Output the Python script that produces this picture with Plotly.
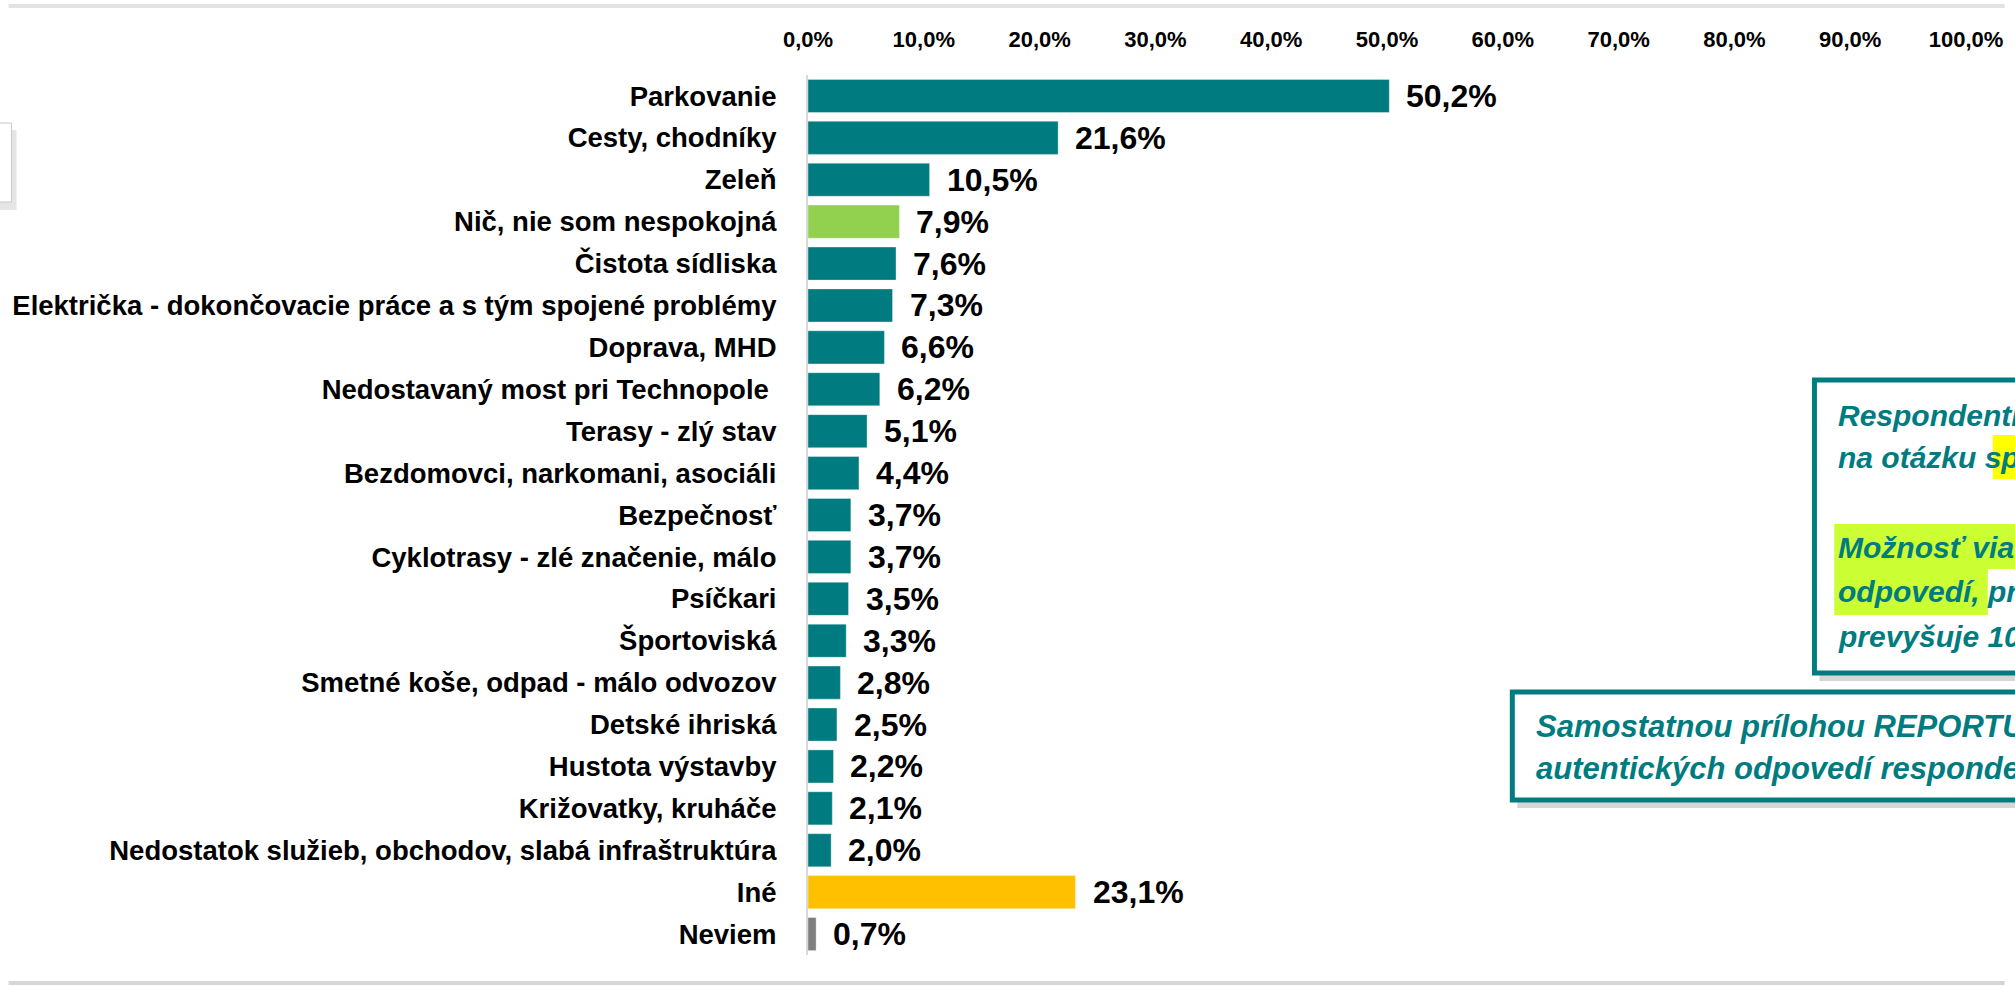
import plotly.graph_objects as go

categories = [
    "Parkovanie",
    "Cesty, chodníky",
    "Zeleň",
    "Nič, nie som nespokojná",
    "Čistota sídliska",
    "Električka - dokončovacie práce a s tým spojené problémy",
    "Doprava, MHD",
    "Nedostavaný most pri Technopole\u00a0",
    "Terasy - zlý stav",
    "Bezdomovci, narkomani, asociáli",
    "Bezpečnosť",
    "Cyklotrasy - zlé značenie, málo",
    "Psíčkari",
    "Športoviská",
    "Smetné koše, odpad - málo odvozov",
    "Detské ihriská",
    "Hustota výstavby",
    "Križovatky, kruháče",
    "Nedostatok služieb, obchodov, slabá infraštruktúra",
    "Iné",
    "Neviem",
]
values = [50.2, 21.6, 10.5, 7.9, 7.6, 7.3, 6.6, 6.2, 5.1, 4.4, 3.7, 3.7, 3.5, 3.3,
          2.8, 2.5, 2.2, 2.1, 2.0, 23.1, 0.7]
TEAL = "#007C80"
bar_colors = [TEAL, TEAL, TEAL, "#92D050"] + [TEAL] * 15 + ["#FFC000", "#7F7F7F"]
tick_vals = [0, 10, 20, 30, 40, 50, 60, 70, 80, 90, 100]
tick_text = [f"{t:.1f}".replace(".", ",") + "%" for t in tick_vals]

W, H = 2015, 986
L, R, T, B = 807, 1976, 75, 955
FONT = "Liberation Sans, Arial, sans-serif"


def px(x):
    return (x - L) / (R - L)


def py(y):
    return (B - y) / (B - T)


fig = go.Figure(go.Bar(
    x=values, y=categories, orientation="h",
    marker=dict(color=bar_colors, line=dict(color="rgba(255,255,255,0.35)", width=1)),
    width=0.79, hoverinfo="skip",
))

annotations = []
for c, v in zip(categories, values):
    annotations.append(dict(
        x=v, y=c, xref="x", yref="y", xanchor="left", yanchor="middle",
        xshift=15, showarrow=False,
        text="<b>" + f"{v:.1f}".replace(".", ",") + "%</b>",
        font=dict(family=FONT, size=32, color="#000000"),
    ))

shapes = []
# top / bottom frame lines
shapes.append(dict(type="line", xref="paper", yref="paper", x0=px(0), x1=px(W), y0=py(6), y1=py(6),
                   line=dict(color="#E2E2E2", width=4)))
shapes.append(dict(type="line", xref="paper", yref="paper", x0=px(0), x1=px(W), y0=py(983), y1=py(983),
                   line=dict(color="#D6D6D6", width=4)))
# left fragment box with shadow
shapes.append(dict(type="rect", xref="paper", yref="paper", x0=px(-60), x1=px(8), y0=py(130), y1=py(210),
                   fillcolor="rgba(0,0,0,0.10)", line=dict(width=0)))
shapes.append(dict(type="rect", xref="paper", yref="paper", x0=px(-60), x1=px(3), y0=py(123), y1=py(202),
                   fillcolor="white", line=dict(color="#C8C8C8", width=1)))

# box 1
b1 = dict(x0=1823, x1=2400, y0=380, y1=673)
shapes.append(dict(type="rect", xref="paper", yref="paper", x0=px(b1["x0"] + 5), x1=px(b1["x1"] + 5),
                   y0=py(b1["y0"] + 7), y1=py(b1["y1"] + 8),
                   fillcolor="rgba(0,0,0,0.16)", line=dict(width=0)))
shapes.append(dict(type="rect", xref="paper", yref="paper", x0=px(b1["x0"]), x1=px(b1["x1"]),
                   y0=py(b1["y0"]), y1=py(b1["y1"]),
                   fillcolor="white", line=dict(color=TEAL, width=5)))
# highlights inside box 1
shapes.append(dict(type="rect", xref="paper", yref="paper", x0=px(2003), x1=px(2200), y0=py(435), y1=py(479),
                   fillcolor="#FFFF00", line=dict(width=0)))
shapes.append(dict(type="rect", xref="paper", yref="paper", x0=px(1843), x1=px(2200), y0=py(524), y1=py(569),
                   fillcolor="#CCFF33", line=dict(width=0)))
shapes.append(dict(type="rect", xref="paper", yref="paper", x0=px(1843), x1=px(1998), y0=py(569), y1=py(615),
                   fillcolor="#CCFF33", line=dict(width=0)))

# box 2
b2 = dict(x0=1518, x1=2400, y0=692, y1=800)
shapes.append(dict(type="rect", xref="paper", yref="paper", x0=px(b2["x0"] + 5), x1=px(b2["x1"] + 5),
                   y0=py(b2["y0"] + 7), y1=py(b2["y1"] + 8),
                   fillcolor="rgba(0,0,0,0.16)", line=dict(width=0)))
shapes.append(dict(type="rect", xref="paper", yref="paper", x0=px(b2["x0"]), x1=px(b2["x1"]),
                   y0=py(b2["y0"]), y1=py(b2["y1"]),
                   fillcolor="white", line=dict(color=TEAL, width=5)))

box_lines = [
    ("Respondenti odpovedali", 1845, 415, 30),
    ("na otázku spontánne.", 1845, 458, 30),
    ("Možnosť viacerých", 1845, 547, 30),
    ("odpovedí, preto súčet", 1845, 591, 30),
    ("prevyšuje 100 %.", 1845, 636, 30),
    ("Samostatnou prílohou REPORTU je zoznam", 1540, 726, 31),
    ("autentických odpovedí respondentov.", 1540, 768, 31),
]
for txt, x, y, fs in box_lines:
    annotations.append(dict(
        x=px(x), y=py(y), xref="paper", yref="paper", xanchor="left", yanchor="middle",
        showarrow=False, text="<b><i>" + txt + "</i></b>",
        font=dict(family=FONT, size=fs, color=TEAL),
    ))

fig.update_layout(
    width=W, height=H,
    margin=dict(l=L, r=W - R, t=T, b=H - B, pad=0),
    paper_bgcolor="white", plot_bgcolor="white",
    showlegend=False,
    bargap=0.21,
    xaxis=dict(
        side="top", range=[0, 100], tickvals=tick_vals, ticktext=tick_text,
        showgrid=False, zeroline=False, showline=False,
        ticks="outside", ticklen=18, tickcolor="rgba(0,0,0,0)",
        tickfont=dict(family=FONT, size=22, color="#000000", weight="bold"),
        fixedrange=True,
    ),
    yaxis=dict(
        categoryorder="array", categoryarray=categories, autorange="reversed",
        showgrid=False, zeroline=False,
        showline=True, linecolor="#D9D9D9", linewidth=2,
        ticks="outside", ticklen=24, tickcolor="rgba(0,0,0,0)",
        tickfont=dict(family=FONT, size=27.5, color="#000000", weight="bold"),
        fixedrange=True,
    ),
    shapes=shapes,
    annotations=annotations,
)

fig.write_html("out.html", config={"displayModeBar": False},
               post_script="document.body.style.margin='0';document.body.style.overflow='hidden';")
